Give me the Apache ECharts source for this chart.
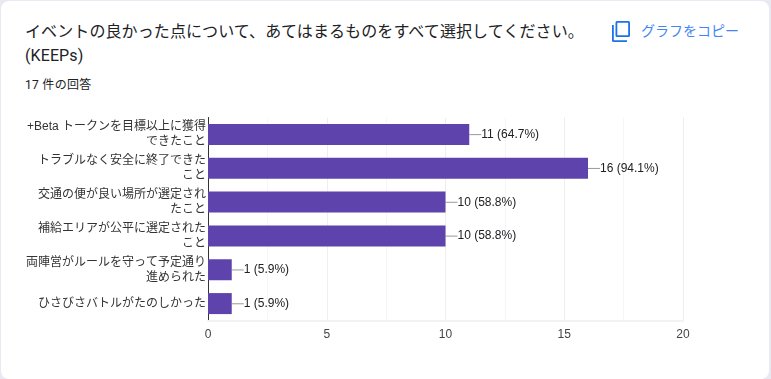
<!DOCTYPE html>
<html>
<head>
<meta charset="utf-8">
<script src="https://cdn.jsdelivr.net/npm/echarts@6/dist/echarts.min.js"></script>
<style>
  html, body { margin: 0; padding: 0; width: 771px; height: 379px; overflow: hidden; background: #e8e9f1; }
  .card { position: absolute; left: 1px; top: 1px; width: 768px; height: 378px; background: #fff; border-radius: 8px; }
  .title { position: absolute; left: 25px; top: 20px; width: 570px; color: #202124; font: 16px/24px Roboto, "Noto Sans CJK JP", sans-serif; letter-spacing: 0.1px; white-space: nowrap; }
  .count { position: absolute; left: 25px; top: 76px; color: #202124; font: 12px/18px Roboto, "Noto Sans CJK JP", sans-serif; letter-spacing: 0.3px; }
  .copy { position: absolute; left: 641px; top: 21px; color: #4285f4; font: 14px/20px Roboto, "Noto Sans CJK JP", sans-serif; white-space: nowrap; }
  .icon { position: absolute; left: 610px; top: 19px; }
  #chart { position: absolute; left: 0; top: 0; width: 771px; height: 379px; }
</style>
</head>
<body>
<div class="card"></div>
<div class="title">イベントの良かった点について、あてはまるものをすべて選択してください。<br>(KEEPs)</div>
<div class="count">17 件の回答</div>
<svg class="icon" width="22" height="24" viewBox="0 0 22 24"><path fill="#1a73e8" d="M7 2h11.5a1.500 1.500 0 0 1 1.500 1.500v13a1.500 1.500 0 0 1-1.500 1.500H7a1.500 1.500 0 0 1-1.500-1.500v-13A1.500 1.500 0 0 1 7 2zm.3 1.800v12.400h10.900V3.800zM2 6h1.800v15.200h13.200V23H3.500A1.500 1.500 0 0 1 2 21.500z"/></svg>
<div class="copy">グラフをコピー</div>
<div id="chart"></div>
<script>
const categories = [
  "+Beta トークンを目標以上に獲得\nできたこと",
  "トラブルなく安全に終了できた\nこと",
  "交通の便が良い場所が選定され\nたこと",
  "補給エリアが公平に選定された\nこと",
  "両陣営がルールを守って予定通り\n進められた",
  "ひさびさバトルがたのしかった"
]
const values = [11, 16, 10, 10, 1, 1]
const percents = ["64.7%", "94.1%", "58.8%", "58.8%", "5.9%", "5.9%"]
const tickValues = [0, 5, 10, 15, 20]

const fontFamily = '"Liberation Sans", "Noto Sans CJK JP", sans-serif'
const chart = echarts.init(document.getElementById("chart"), null, { renderer: "canvas" })

chart.setOption({
  animation: false,
  backgroundColor: "transparent",
  grid: { left: 208, right: 88, top: 117.5, bottom: 58.5 },
  xAxis: {
    type: "value",
    min: tickValues[0],
    max: tickValues[tickValues.length - 1],
    interval: 5,
    axisLine: { show: true, lineStyle: { color: "#f3f3f5", width: 2 } },
    axisTick: { show: false },
    axisLabel: { color: "#444", fontSize: 12, fontFamily, margin: 8 },
    splitLine: { show: true, lineStyle: { color: "#eeeef1", width: 1 } },
    minorTick: { show: false, splitNumber: 2 },
    minorSplitLine: { show: true, lineStyle: { color: "#f6f6f7", width: 1 } },
  },
  yAxis: {
    type: "category",
    inverse: true,
    data: categories,
    axisLine: { show: true, lineStyle: { color: "#333", width: 1 } },
    axisTick: { show: false },
    axisLabel: { color: "#333", fontSize: 12, fontFamily, lineHeight: 15, margin: 2, align: "right" },
  },
  series: [{
    type: "bar",
    data: values,
    barWidth: 21,
    itemStyle: { color: "#5e43ac" },
    label: {
      show: true,
      position: "right",
      distance: 0,
      color: "#202124",
      fontSize: 12,
      fontFamily,
      formatter: (p) => `${values[p.dataIndex]} (${percents[p.dataIndex]})`,
    },
    labelLayout: { dx: 12, dy: 0.2 },
    labelLine: { show: true, lineStyle: { color: "#999", width: 1 } },
  }],
})
</script>
</body>
</html>
